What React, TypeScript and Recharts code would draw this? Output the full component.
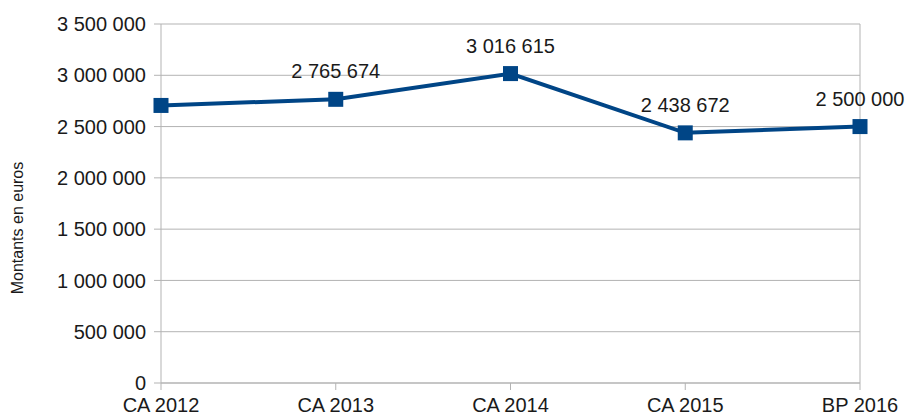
import { LineChart, Line, XAxis, YAxis, CartesianGrid, ReferenceLine, Label } from "recharts";

const CATEGORIES = ["CA 2012", "CA 2013", "CA 2014", "CA 2015", "BP 2016"];
const AMOUNTS = [2706000, 2765674, 3016615, 2438672, 2500000];
// the first point carries no value label in the original
const SHOW_LABEL = [false, true, true, true, true];
const Y_TICKS = [0, 500000, 1000000, 1500000, 2000000, 2500000, 3000000, 3500000];

const LINE_COLOR = "#004586";
const GRID = "#b3b3b3";
const TEXT = "#1a1a1a";
const FONT = "'Liberation Sans', Arial, sans-serif";

const data = CATEGORIES.map((name, i) => ({ name, value: AMOUNTS[i], show: SHOW_LABEL[i] }));

// thousands separated by a space, french style
const fmt = (v: number) => String(Math.round(v)).replace(/\B(?=(\d{3})+(?!\d))/g, " ");

const SquareDot = (props: any) => {
  const { cx, cy } = props;
  if (cx == null || cy == null) return null;
  const s = 15;
  return <rect x={cx - s / 2} y={cy - s / 2} width={s} height={s} fill={LINE_COLOR} />;
};

const ValueLabel = (props: any) => {
  const { x, y, value, index } = props;
  if (!SHOW_LABEL[index]) return null;
  return (
    <text x={x} y={y - 21} textAnchor="middle" fontSize={20} fill={TEXT} fontFamily={FONT}>
      {fmt(value)}
    </text>
  );
};

const AxisTitle = () => {
  const cy = 228;
  const cx = 17;
  return (
    <text
      x={cx}
      y={cy}
      transform={`rotate(-90 ${cx} ${cy})`}
      textAnchor="middle"
      dominantBaseline="central"
      fontSize={16}
      fill={TEXT}
      fontFamily={FONT}
    >
      Montants en euros
    </text>
  );
};

export default function App() {
  return (
    <div style={{ position: "absolute", left: 0, top: 0, width: 909, height: 419, background: "#fff" }}>
      <LineChart width={909} height={419} data={data} margin={{ top: 24, right: 49, bottom: 0, left: 0 }}>
        <CartesianGrid stroke={GRID} vertical={false} />
        <XAxis
          dataKey="name"
          height={36}
          stroke={GRID}
          tickSize={7}
          tickMargin={8}
          interval={0}
          tick={{ fontSize: 20, fill: TEXT, fontFamily: FONT }}
        />
        <YAxis
          width={161}
          domain={[0, 3500000]}
          ticks={Y_TICKS}
          tickFormatter={fmt}
          stroke={GRID}
          tickSize={7}
          tickMargin={8}
          tick={{ fontSize: 20, fill: TEXT, fontFamily: FONT }}
        >
          <Label content={AxisTitle} />
        </YAxis>
        <ReferenceLine x="BP 2016" stroke={GRID} />
        <Line
          dataKey="value"
          stroke={LINE_COLOR}
          strokeWidth={4}
          dot={<SquareDot />}
          activeDot={false}
          label={<ValueLabel />}
          isAnimationActive={false}
        />
      </LineChart>
    </div>
  );
}
